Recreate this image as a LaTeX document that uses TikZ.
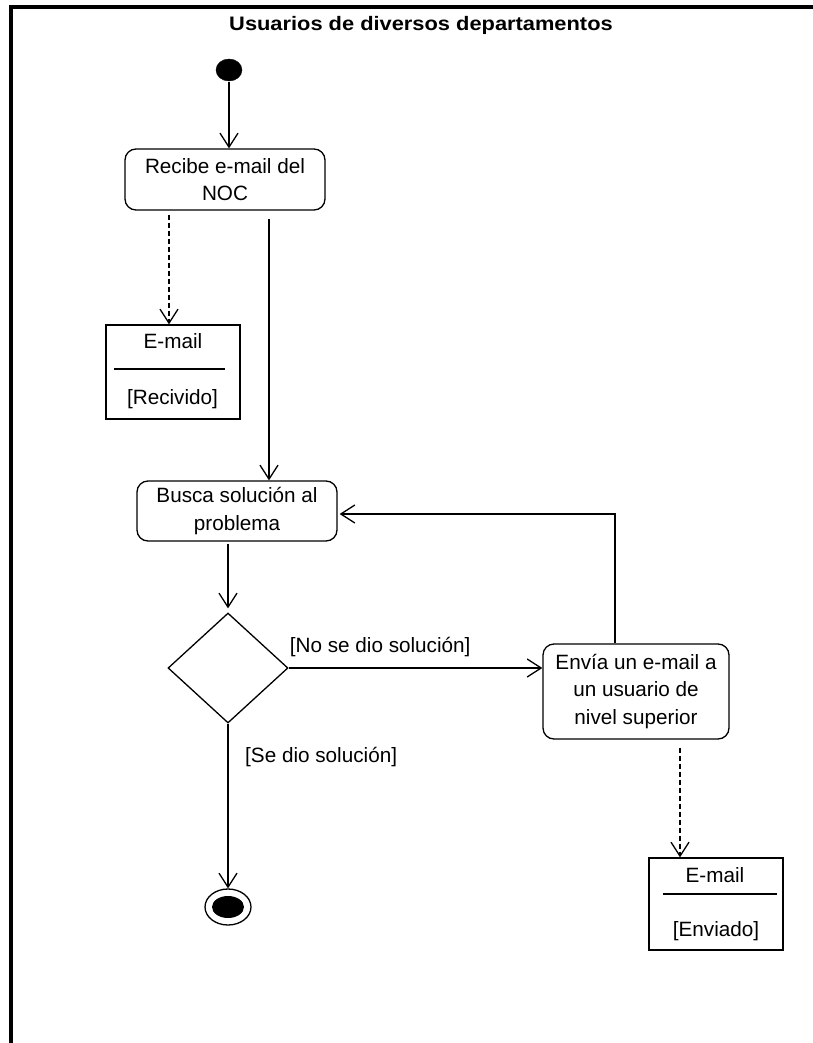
\documentclass[tikz,border=0pt]{standalone}
\usepackage{fontspec}
\setmainfont{Liberation Sans}
\usetikzlibrary{arrows.meta,shapes.geometric,calc}
\begin{document}
\begin{tikzpicture}[x=1pt,y=-1pt,
  every node/.style={font=\fontsize{20.7}{27.5}\selectfont},
  action/.style={draw,line width=1.3pt,rounded corners=11pt,align=center,inner sep=0pt},
  object/.style={draw,line width=1.3pt,inner sep=0pt},
  objline/.style={line width=1.3pt},
  flow/.style={line width=1.3pt,-{Straight Barb[length=14pt,width=18pt,line width=1.3pt]}},
  dflow/.style={flow,dash pattern=on 5pt off 3pt},
  guard/.style={inner sep=0pt,anchor=base west},
  ovtext/.style={inner sep=0pt,anchor=base},
]
\useasboundingbox (0,0) rectangle (813,1043);
% swimlane frame
\draw[line width=3.2pt] (11,1043) -- (11,7) -- (813,7);
\node[font=\bfseries\fontsize{19.5}{24}\selectfont] (title) at (421,25)
  {\scalebox{1.12}[1]{Usuarios de diversos departamentos}};

% states
\node[ellipse,draw,fill,minimum width=26pt,minimum height=22pt,inner sep=0pt] (start) at (229,70) {};
\node[action,minimum width=200pt,minimum height=61pt] (recibe) at (225,179.5) {Recibe e-mail del\\NOC};
\node[action,minimum width=200pt,minimum height=60pt] (busca) at (237,511) {Busca solución al\\problema};
\node[diamond,draw,line width=1.3pt,minimum width=120pt,minimum height=110pt,inner sep=0pt] (dec) at (228,668) {};
\node[action,minimum width=186pt,minimum height=95pt] (envia) at (636,691.5) {Envía un e-mail a\\un usuario de\\nivel superior};
\node[ellipse,draw,line width=1.3pt,minimum width=46pt,minimum height=36pt,inner sep=0pt] (end) at (228,907) {};
\node[ellipse,fill,minimum width=32pt,minimum height=22pt,inner sep=0pt] (endin) at (end.center) {};

% object flows
\node[object,minimum width=134pt,minimum height=94pt] (email1) at (173,372) {};
\node[ovtext] (email1n) at (173,348) {E-mail};
\node[ovtext] (email1s) at (172.5,404) {[Recivido]};
\draw[objline] ($(email1.west)+(9,-3)$) -- ($(email1.east)+(-16,-3)$);

\node[object,minimum width=134pt,minimum height=92pt] (email2) at (716,904) {};
\node[ovtext] (email2n) at (715,882) {E-mail};
\node[ovtext] (email2s) at (716,936) {[Enviado]};
\draw[objline] ($(email2.west)+(15,-10)$) -- ($(email2.east)+(-7,-10)$);

% transitions
\draw[flow] ($(start.south)+(0,1)$) -- (start |- recibe.north);
\draw[dflow] ($(recibe.south)+(-56,4)$) coordinate (r1) -- (r1 |- email1.north);
\draw[flow] ($(recibe.south)+(44,8)$) coordinate (r2) -- (r2 |- busca.north);
\draw[flow] ($(busca.south -| dec.north)+(0,2)$) -- ($(dec.north)+(0,-4)$);
\draw[flow] (dec.east) -- (dec.east -| envia.west);
\node[guard] (g1) at ($(dec.east)+(1,-16)$) {[No se dio solución]};
\draw[flow] (dec.south) -- (end.north);
\node[guard] (g2) at ($(dec.south)+(17,39)$) {[Se dio solución]};
\draw[flow] ($(envia.north)+(-21,0)$) |- ($(busca.east)+(2,3)$);
\draw[dflow] ($(envia.south)+(44,8)$) coordinate (e1) -- (e1 |- email2.north);
\end{tikzpicture}
\end{document}
